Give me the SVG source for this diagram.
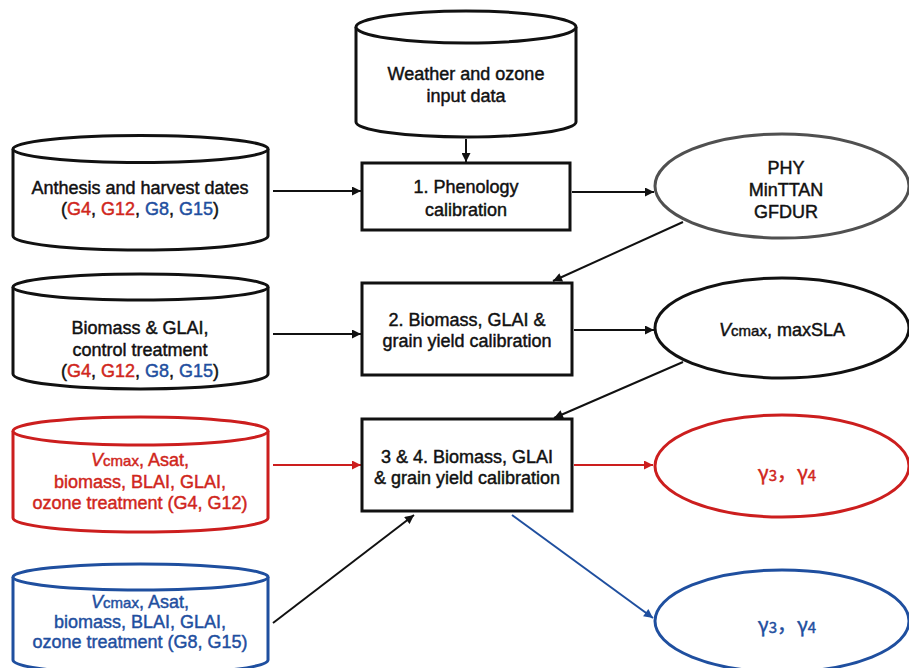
<svg xmlns="http://www.w3.org/2000/svg" width="909" height="668" viewBox="0 0 909 668">
<defs>
<style>
.t{font-family:"Liberation Sans",Arial,sans-serif;font-size:18px;text-anchor:middle;fill:#111;stroke:#111;stroke-width:0.45}
.r{fill:#d0261c;stroke:#d0261c}
.b{fill:#1f4f9f;stroke:#1f4f9f}
.g{font-family:"Noto Sans CJK SC","Liberation Sans",sans-serif;font-size:20px}
.cyl{fill:#fff;stroke:#111;stroke-width:3}
.box{fill:#fff;stroke:#111;stroke-width:3}
.ell{fill:#fff;stroke-width:3}
.c{fill:none;stroke-width:2}
.sm{font-size:15px}
.it{font-style:italic}
</style>
<marker id="ak" viewBox="0 0 10 10" refX="10" refY="5" markerWidth="10" markerHeight="9" markerUnits="userSpaceOnUse" orient="auto"><path d="M0,0L10,5L0,10z" fill="#111"/></marker>
<marker id="ar" viewBox="0 0 10 10" refX="10" refY="5" markerWidth="10" markerHeight="9" markerUnits="userSpaceOnUse" orient="auto"><path d="M0,0L10,5L0,10z" fill="#cc1e1e"/></marker>
<marker id="ab" viewBox="0 0 10 10" refX="10" refY="5" markerWidth="10" markerHeight="9" markerUnits="userSpaceOnUse" orient="auto"><path d="M0,0L10,5L0,10z" fill="#1f4f9f"/></marker>
</defs>
<rect width="909" height="668" fill="#fff"/>

<g id="connectors">
<line class="c" stroke="#111" x1="466" y1="139" x2="466" y2="162" marker-end="url(#ak)"/>
<line class="c" stroke="#111" x1="273" y1="191" x2="361" y2="191" marker-end="url(#ak)"/>
<line class="c" stroke="#111" x1="572" y1="192" x2="654" y2="192" marker-end="url(#ak)"/>
<line class="c" stroke="#111" x1="683" y1="222" x2="553" y2="281" marker-end="url(#ak)"/>
<line class="c" stroke="#111" x1="273" y1="334" x2="361" y2="334" marker-end="url(#ak)"/>
<line class="c" stroke="#111" x1="574" y1="330" x2="654" y2="330" marker-end="url(#ak)"/>
<line class="c" stroke="#111" x1="683" y1="362" x2="554" y2="418" marker-end="url(#ak)"/>
<line class="c" stroke="#cc1e1e" x1="273" y1="465" x2="361" y2="465" marker-end="url(#ar)"/>
<line class="c" stroke="#cc1e1e" x1="574" y1="465" x2="653" y2="465" marker-end="url(#ar)"/>
<line class="c" stroke="#111" x1="273" y1="623" x2="414" y2="515" marker-end="url(#ak)"/>
<line class="c" stroke="#1f4f9f" x1="512" y1="515" x2="653" y2="618" marker-end="url(#ab)"/>
</g>

<g id="weather">
<path class="cyl" d="M356,27L356,122A110,15 0 0 0 576,122L576,27"/>
<ellipse class="cyl" cx="466" cy="27" rx="110" ry="16"/>
<text class="t" x="466" y="80">Weather and ozone</text>
<text class="t" x="466" y="102">input data</text>
</g>

<g id="anthesis">
<path class="cyl" d="M13,149L13,236A127.5,14 0 0 0 268,236L268,149"/>
<ellipse class="cyl" cx="140.5" cy="149" rx="127.5" ry="13.5"/>
<text class="t" x="140" y="194">Anthesis and harvest dates</text>
<text class="t" x="140" y="215">(<tspan class="r">G4</tspan>, <tspan class="r">G12</tspan>, <tspan class="b">G8</tspan>, <tspan class="b">G15</tspan>)</text>
</g>

<g id="biomass-control">
<path class="cyl" d="M13,287L13,374A127.5,15 0 0 0 268,374L268,287"/>
<ellipse class="cyl" cx="140.5" cy="287" rx="127.5" ry="13"/>
<text class="t" x="140" y="334">Biomass &amp; GLAI,</text>
<text class="t" x="140" y="356">control treatment</text>
<text class="t" x="140" y="377">(<tspan class="r">G4</tspan>, <tspan class="r">G12</tspan>, <tspan class="b">G8</tspan>, <tspan class="b">G15</tspan>)</text>
</g>

<g id="ozone-red">
<path class="cyl" style="stroke:#cc1e1e" d="M13,431L13,518A127.5,14 0 0 0 268,518L268,431"/>
<ellipse class="cyl" style="stroke:#cc1e1e" cx="140.5" cy="431" rx="127.5" ry="14"/>
<text class="t r" x="140" y="466"><tspan class="it">V</tspan><tspan class="sm">cmax</tspan>, Asat,</text>
<text class="t r" x="140" y="488">biomass, BLAI, GLAI,</text>
<text class="t r" x="140" y="509">ozone treatment (G4, G12)</text>
</g>

<g id="ozone-blue">
<path class="cyl" style="stroke:#1f4f9f" d="M13,577L13,660A127.5,14 0 0 0 268,660L268,577"/>
<ellipse class="cyl" style="stroke:#1f4f9f" cx="140.5" cy="577" rx="127.5" ry="13"/>
<text class="t b" x="140" y="608"><tspan class="it">V</tspan><tspan class="sm">cmax</tspan>, Asat,</text>
<text class="t b" x="140" y="628">biomass, BLAI, GLAI,</text>
<text class="t b" x="140" y="648">ozone treatment (G8, G15)</text>
</g>

<g id="step1">
<rect class="box" x="362" y="163" width="208" height="67"/>
<text class="t" x="466" y="193">1. Phenology</text>
<text class="t" x="466" y="216">calibration</text>
</g>

<g id="step2">
<rect class="box" x="362" y="283" width="210" height="92"/>
<text class="t" x="467" y="326">2. Biomass, GLAI &amp;</text>
<text class="t" x="467" y="347">grain yield calibration</text>
</g>

<g id="step34">
<rect class="box" x="362" y="419" width="210" height="92"/>
<text class="t" x="467" y="463">3 &amp; 4. Biomass, GLAI</text>
<text class="t" x="467" y="484">&amp; grain yield calibration</text>
</g>

<g id="phenology-params">
<ellipse class="ell" stroke="#505050" cx="782" cy="186" rx="127" ry="52"/>
<text class="t" x="786" y="174">PHY</text>
<text class="t" x="786" y="196">MinTTAN</text>
<text class="t" x="786" y="218">GFDUR</text>
</g>

<g id="vcmax-params">
<ellipse class="ell" stroke="#111" cx="782" cy="328" rx="127" ry="50"/>
<text class="t" x="782" y="336"><tspan class="it">V</tspan><tspan class="sm">cmax</tspan>, maxSLA</text>
</g>

<g id="gamma-red">
<ellipse class="ell" stroke="#cc1e1e" cx="782" cy="466" rx="127" ry="51"/>
<text class="t r g" x="787" y="480">γ<tspan class="sm" dy="1">3</tspan><tspan dy="-1">，γ</tspan><tspan class="sm" dy="1">4</tspan></text>
</g>

<g id="gamma-blue">
<ellipse class="ell" stroke="#1f4f9f" cx="782" cy="621" rx="127" ry="51"/>
<text class="t b g" x="787" y="632">γ<tspan class="sm" dy="1">3</tspan><tspan dy="-1">，γ</tspan><tspan class="sm" dy="1">4</tspan></text>
</g>
</svg>
